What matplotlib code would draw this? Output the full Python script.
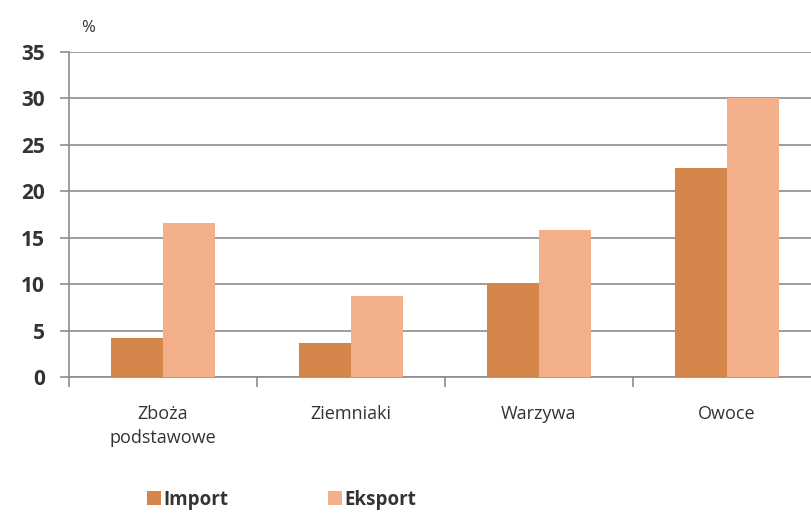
import matplotlib.pyplot as plt
import numpy as np

# Data
categories = ["Zboża\npodstawowe", "Ziemniaki", "Warzywa", "Owoce"]
import_vals = [4.2, 3.7, 10.1, 22.5]
export_vals = [16.6, 8.7, 15.8, 30.0]

plt.rcParams["font.family"] = ["Open Sans", "DejaVu Sans"]

fig = plt.figure(figsize=(8.11, 5.18), dpi=100)
ax = fig.add_axes([0.085, 0.272, 0.915, 0.628])

x = np.arange(len(categories))
w = 0.275
ax.bar(x - w / 2, import_vals, w, color="#D4854A", label="Import", zorder=3)
ax.bar(x + w / 2, export_vals, w, color="#F2AF8A", label="Eksport", zorder=3)

ax.set_ylim(0, 35)
ax.set_yticks(range(0, 36, 5))
ax.set_xlim(-0.5, 3.447)
ax.grid(axis="y", color="#8c8c8c", linewidth=1.2, zorder=0)

ax.set_xticks(x)
ax.set_xticklabels(categories, fontsize=13, color="#333333", linespacing=1.45)
ax.set_xticks(np.arange(-0.5, 3.5, 1), minor=True)
ax.tick_params(axis="x", which="major", length=0, pad=20)
ax.tick_params(axis="x", which="minor", length=7, color="#8c8c8c", width=1.2)
ax.tick_params(axis="y", length=6.5, color="#8c8c8c", width=1.2, labelsize=15, pad=11,
               labelcolor="#333333")
for lbl in ax.get_yticklabels():
    lbl.set_fontweight("bold")

for s in ["top", "right"]:
    ax.spines[s].set_visible(False)
for s in ["left", "bottom"]:
    ax.spines[s].set_color("#8c8c8c")
    ax.spines[s].set_linewidth(1.2)

fig.text(0.108, 0.945, "%", fontsize=12, color="#333333", ha="center", va="center")

leg = fig.legend(loc="center left", bbox_to_anchor=(0.16, 0.035), ncol=2, frameon=False,
                 handlelength=0.75, handleheight=0.75, handletextpad=0.15,
                 columnspacing=5.3, prop={"size": 13.5, "weight": "bold"})
for t in leg.get_texts():
    t.set_color("#333333")

plt.savefig("out.png", dpi=100)
